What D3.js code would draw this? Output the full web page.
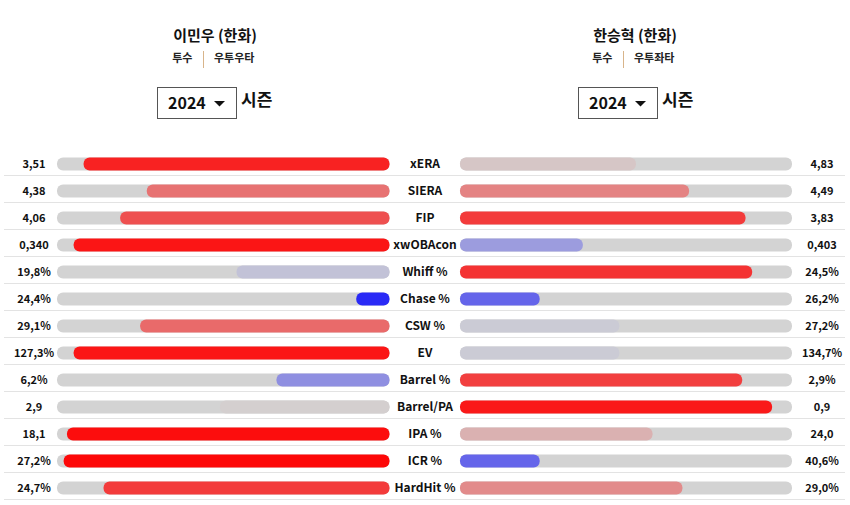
<!DOCTYPE html>
<html>
<head>
<meta charset="utf-8">
<script src="https://cdn.jsdelivr.net/npm/d3@7"></script>
<style>
  body { margin: 0; background: #fff; }
  svg { display: block; font-family: "Noto Sans CJK KR", "Noto Sans", sans-serif; }
</style>
</head>
<body>
<svg id="chart" width="850" height="505"></svg>
<script>
const metrics = ["xERA", "SIERA", "FIP", "xwOBAcon", "Whiff %", "Chase %", "CSW %", "EV", "Barrel %", "Barrel/PA", "IPA %", "ICR %", "HardHit %"];

const leftName = "이민우 (한화)";
const leftPos = "투수";
const leftHand = "우투우타";
const leftValues = ["3,51", "4,38", "4,06", "0,340", "19,8%", "24,4%", "29,1%", "127,3%", "6,2%", "2,9", "18,1", "27,2%", "24,7%"];
const leftPct = [92, 73, 81, 95, 46, 10, 75, 95, 34, 51, 97, 98, 86];

const rightName = "한승혁 (한화)";
const rightPos = "투수";
const rightHand = "우투좌타";
const rightValues = ["4,83", "4,49", "3,83", "0,403", "24,5%", "26,2%", "27,2%", "134,7%", "2,9%", "0,9", "24,0", "40,6%", "29,0%"];
const rightPct = [53, 69, 86, 37, 88, 24, 48, 48, 85, 94, 58, 24, 67];

const seasonLabel = "2024";
const seasonWord = "시즌";

const svg = d3.select("#chart");

const color = d3.scaleLinear().domain([0, 50, 100]).range(["#0000ff", "#d3d3d3", "#ff0000"]).interpolate(d3.interpolateRgb);

const y = d3.scaleBand().domain(metrics).range([151, 502]).paddingInner(0).paddingOuter(0);
const barH = 13;
const xl = d3.scaleLinear().domain([0, 100]).range([389.5, 57]);
const xr = d3.scaleLinear().domain([0, 100]).range([460, 792]);

// headers
function header(cx, name, pos, hand, boxX) {
  svg.append("text").attr("x", cx).attr("y", 41).attr("text-anchor", "middle")
    .attr("font-size", 15).attr("font-weight", 700).attr("fill", "#111").text(name);
  svg.append("text").attr("x", cx - 22.5).attr("y", 62).attr("text-anchor", "end")
    .attr("font-size", 11).attr("font-weight", 700).attr("fill", "#222").text(pos);
  svg.append("line").attr("x1", cx - 11.5).attr("x2", cx - 11.5).attr("y1", 51).attr("y2", 68)
    .attr("stroke", "#d8b48a").attr("stroke-width", 1);
  svg.append("text").attr("x", cx - 1).attr("y", 62).attr("text-anchor", "start")
    .attr("font-size", 11).attr("font-weight", 700).attr("fill", "#222").text(hand);
  svg.append("rect").attr("x", boxX + 0.5).attr("y", 87.5).attr("width", 79).attr("height", 31)
    .attr("fill", "#fff").attr("stroke", "#555").attr("stroke-width", 1);
  svg.append("text").attr("x", boxX + 11).attr("y", 108.5)
    .attr("font-size", 16).attr("font-weight", 700).attr("fill", "#111").text(seasonLabel);
  svg.append("path").attr("d", `M${boxX + 57},${101} L${boxX + 68},${101} L${boxX + 62.5},${106.5} Z`).attr("fill", "#111");
  svg.append("text").attr("x", boxX + 84).attr("y", 106)
    .attr("font-size", 17).attr("font-weight", 700).attr("fill", "#111").text(seasonWord);
}
header(215, leftName, leftPos, leftHand, 157);
header(635, rightName, rightPos, rightHand, 578);

const rows = svg.append("g").selectAll("g").data(metrics).join("g")
  .attr("transform", d => `translate(0,${y(d)})`);

const bh = y.bandwidth();

// dividers
rows.append("line").attr("x1", 4).attr("x2", 845)
  .attr("y1", bh - 2.5).attr("y2", bh - 2.5)
  .attr("stroke", "#e3e3e3").attr("stroke-width", 1);

const by = 6.5;

// left tracks
rows.append("rect").attr("x", xl(100)).attr("y", by).attr("width", xl(0) - xl(100)).attr("height", barH)
  .attr("rx", 6).attr("fill", "#d3d3d3");
rows.append("rect").attr("x", (d, i) => xl(leftPct[i])).attr("y", by)
  .attr("width", (d, i) => xl(0) - xl(leftPct[i])).attr("height", barH)
  .attr("rx", 6).attr("fill", (d, i) => color(leftPct[i]));

// right tracks
rows.append("rect").attr("x", xr(0)).attr("y", by).attr("width", xr(100) - xr(0)).attr("height", barH)
  .attr("rx", 6).attr("fill", "#d3d3d3");
rows.append("rect").attr("x", xr(0)).attr("y", by)
  .attr("width", (d, i) => xr(rightPct[i]) - xr(0)).attr("height", barH)
  .attr("rx", 6).attr("fill", (d, i) => color(rightPct[i]));

// texts
rows.append("text").attr("x", 34).attr("y", by + barH / 2).attr("dy", "0.36em")
  .attr("text-anchor", "middle").attr("font-size", 11).attr("font-weight", 700).attr("fill", "#111")
  .text((d, i) => leftValues[i]);
rows.append("text").attr("x", 425).attr("y", by + barH / 2).attr("dy", "0.36em")
  .attr("text-anchor", "middle").attr("font-size", 12).attr("font-weight", 700).attr("fill", "#111")
  .text(d => d);
rows.append("text").attr("x", 822).attr("y", by + barH / 2).attr("dy", "0.36em")
  .attr("text-anchor", "middle").attr("font-size", 11).attr("font-weight", 700).attr("fill", "#111")
  .text((d, i) => rightValues[i]);
</script>
</body>
</html>
